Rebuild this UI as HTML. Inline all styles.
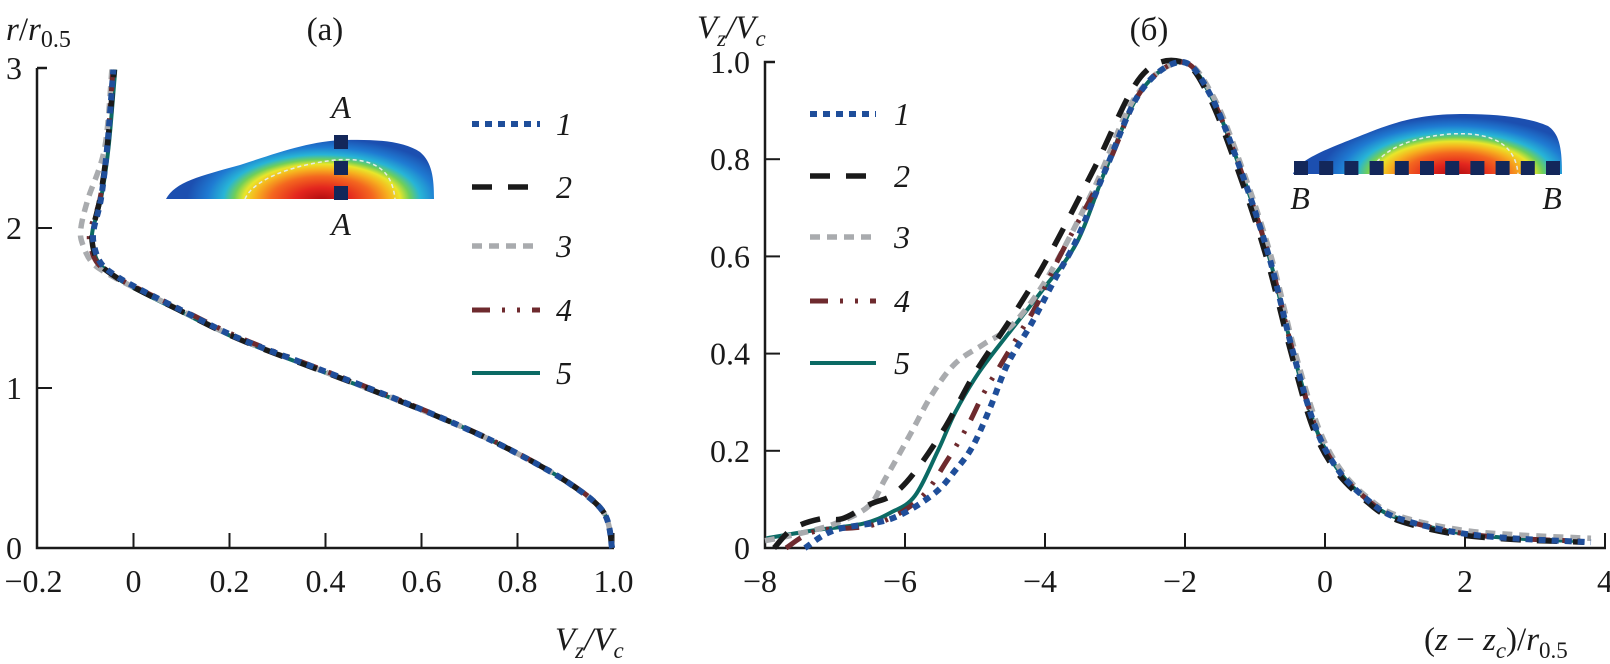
<!DOCTYPE html>
<html><head><meta charset="utf-8">
<style>
html,body{margin:0;padding:0;background:#fff;}
svg{display:block;}
svg text{font-family:"Liberation Serif","Times New Roman",serif;}
</style></head>
<body>
<svg id="chart" width="1610" height="664" viewBox="0 0 1610 664" font-family="Liberation Serif, serif" xmlns="http://www.w3.org/2000/svg">
<defs>
<radialGradient id="gA" gradientUnits="userSpaceOnUse" cx="0" cy="0" r="1" gradientTransform="translate(322,200) scale(135,62)">
<stop offset="0" stop-color="#b00d10"/><stop offset="0.2" stop-color="#e3261e"/><stop offset="0.38" stop-color="#f4671f"/><stop offset="0.5" stop-color="#f6b41f"/><stop offset="0.58" stop-color="#e8e62a"/><stop offset="0.65" stop-color="#6fcf5a"/><stop offset="0.73" stop-color="#27b5d6"/><stop offset="0.85" stop-color="#1f7bd2"/><stop offset="1" stop-color="#1c4fb0"/>
</radialGradient>
<radialGradient id="gB" gradientUnits="userSpaceOnUse" cx="0" cy="0" r="1" gradientTransform="translate(1455,175) scale(135,58)">
<stop offset="0" stop-color="#b00d10"/><stop offset="0.2" stop-color="#e3261e"/><stop offset="0.38" stop-color="#f4671f"/><stop offset="0.5" stop-color="#f6b41f"/><stop offset="0.58" stop-color="#e8e62a"/><stop offset="0.65" stop-color="#6fcf5a"/><stop offset="0.73" stop-color="#27b5d6"/><stop offset="0.85" stop-color="#1f7bd2"/><stop offset="1" stop-color="#1c4fb0"/>
</radialGradient>
</defs>
<g id="left"></g>
<g id="right"></g>
</svg>
<script>
// ---- Data: left panel (V/Vc vs r/r0.5) ----
const leftR = [0,0.22,0.4,0.59,0.75,0.93,1.12,1.31,1.49,1.63,1.70,1.78,1.89,1.99,2.18,2.5,2.99];
const leftV1 = [0.997,0.98,0.91,0.80,0.69,0.548,0.385,0.22,0.097,0.005,-0.036,-0.068,-0.082,-0.083,-0.068,-0.055,-0.042];
const leftV2 = [0.997,0.98,0.91,0.80,0.69,0.545,0.38,0.216,0.093,0.0,-0.04,-0.072,-0.085,-0.085,-0.07,-0.055,-0.04];
const leftV3 = [0.997,0.98,0.91,0.80,0.69,0.545,0.382,0.218,0.095,0.0,-0.045,-0.085,-0.105,-0.11,-0.095,-0.06,-0.045];
const leftV4 = [0.997,0.98,0.912,0.802,0.692,0.55,0.388,0.225,0.1,0.004,-0.04,-0.075,-0.09,-0.09,-0.07,-0.055,-0.043];
const leftV5 = [0.997,0.98,0.91,0.80,0.69,0.543,0.378,0.214,0.09,-0.003,-0.04,-0.072,-0.085,-0.085,-0.068,-0.052,-0.038];
const leftXTicks = [-0.2,0,0.2,0.4,0.6,0.8,1.0];
const leftXTickLabels = ["\u22120.2","0","0.2","0.4","0.6","0.8","1.0"];
const leftYTicks = [0,1,2,3];
const leftYTickLabels = ["0","1","2","3"];

// ---- Data: right panel ((z-zc)/r0.5 vs V/Vc) ----
const rX1 = [-7.43,-7.0,-6.2,-5.6,-5.28,-5.03,-4.78,-4.53,-4.2,-3.87,-3.53,-3.13,-2.63,-2.04,-1.63,-1.21,-0.8,-0.47,-0.14,0.19,0.6,1.01,1.84,2.68,3.8];
const rY1 = [0.0,0.037,0.06,0.11,0.16,0.21,0.29,0.38,0.46,0.55,0.64,0.78,0.94,1.0,0.93,0.78,0.60,0.41,0.25,0.16,0.1,0.063,0.033,0.02,0.012];
const rX2 = [-7.87,-7.6,-7.2,-6.9,-6.5,-6.17,-5.84,-5.42,-5.0,-4.45,-3.95,-3.3,-2.63,-2.04,-1.66,-1.25,-0.84,-0.5,-0.18,0.15,0.56,0.98,1.8,2.65,3.7];
const rY2 = [0.0,0.04,0.06,0.06,0.09,0.11,0.16,0.25,0.36,0.48,0.60,0.78,0.97,1.0,0.93,0.78,0.60,0.41,0.25,0.16,0.1,0.06,0.03,0.018,0.012];
const rX3 = [-8.0,-7.5,-7.0,-6.52,-6.28,-5.94,-5.61,-5.28,-4.87,-4.46,-3.95,-3.3,-2.7,-2.04,-1.6,-1.18,-0.77,-0.44,-0.1,0.23,0.64,1.05,1.9,2.75,3.8];
const rY3 = [0.015,0.03,0.05,0.086,0.143,0.23,0.317,0.38,0.42,0.46,0.56,0.74,0.93,1.0,0.93,0.78,0.60,0.41,0.25,0.16,0.1,0.066,0.038,0.027,0.02];
const rX4 = [-7.7,-7.27,-6.45,-5.8,-5.4,-5.11,-4.87,-4.62,-4.37,-4.12,-3.79,-3.13,-2.63,-2.04,-1.63,-1.21,-0.8,-0.47,-0.14,0.19,0.6,1.01,1.84,2.68,3.7];
const rY4 = [0.0,0.035,0.048,0.1,0.18,0.25,0.32,0.38,0.44,0.50,0.60,0.78,0.94,1.0,0.93,0.78,0.60,0.41,0.25,0.16,0.1,0.063,0.033,0.02,0.014];
const rX5 = [-7.98,-7.27,-6.6,-6.2,-5.86,-5.53,-5.28,-4.95,-4.53,-4.04,-3.54,-3.13,-2.63,-2.04,-1.63,-1.21,-0.8,-0.47,-0.14,0.19,0.6,1.01,1.84,2.68,3.67];
const rY5 = [0.02,0.037,0.05,0.073,0.107,0.2,0.28,0.36,0.44,0.53,0.63,0.78,0.94,1.0,0.93,0.78,0.60,0.41,0.25,0.16,0.1,0.063,0.033,0.02,0.014];
const rightXTicks = [-8,-6,-4,-2,0,2,4];
const rightXTickLabels = ["\u22128","\u22126","\u22124","\u22122","0","2","4"];
const rightYTicks = [0,0.2,0.4,0.6,0.8,1.0];
const rightYTickLabels = ["0","0.2","0.4","0.6","0.8","1.0"];

const NS = "http://www.w3.org/2000/svg";
const FONT = "Liberation Serif, Times New Roman, serif";
function mk(parent, tag, attrs, text){
  const e = document.createElementNS(NS, tag);
  for (const k in attrs) e.setAttribute(k, attrs[k]);
  if (tag === "text") e.setAttribute("font-family", FONT);
  if (text !== undefined) e.textContent = text;
  parent.appendChild(e);
  return e;
}
const styles = [
  {stroke:"#1f4e9a", w:6, dash:"7,6"},
  {stroke:"#1a1a1a", w:5.5, dash:"20,16"},
  {stroke:"#a9abae", w:5.5, dash:"10,7"},
  {stroke:"#6e2a2e", w:5, dash:"18,12,3,12,3,12"},
  {stroke:"#0b6a64", w:4, dash:"none"}
];
function smoothPath(pts){
  let d = "M" + pts[0][0].toFixed(1) + "," + pts[0][1].toFixed(1);
  for (let i=0;i<pts.length-1;i++){
    const p0 = pts[Math.max(0,i-1)], p1 = pts[i], p2 = pts[i+1], p3 = pts[Math.min(pts.length-1,i+2)];
    const c1x = p1[0]+(p2[0]-p0[0])/6, c1y = p1[1]+(p2[1]-p0[1])/6;
    const c2x = p2[0]-(p3[0]-p1[0])/6, c2y = p2[1]-(p3[1]-p1[1])/6;
    d += " C"+c1x.toFixed(1)+","+c1y.toFixed(1)+" "+c2x.toFixed(1)+","+c2y.toFixed(1)+" "+p2[0].toFixed(1)+","+p2[1].toFixed(1);
  }
  return d;
}

// ===== LEFT PANEL =====
const L = document.getElementById("left");
const lx = v => 133.5 + v*480;
const ly = v => 548 - v*160;
mk(L,"path",{d:"M37,68 H47 M37,68 V548 H614","fill":"none",stroke:"#1a1a1a","stroke-width":2.5,});
leftXTicks.forEach((t,i)=>{
  if (i>0){
    const tk = mk(L,"line",{x1:lx(t),x2:lx(t),y1:548,y2:533,stroke:"#1a1a1a","stroke-width":2});
    
    
  }
  const tl = mk(L,"text",{x:lx(t)+(i===0?-4:0),y:592,"font-size":32,"text-anchor":"middle",fill:"#1a1a1a"},leftXTickLabels[i]);
  
  
});
leftYTicks.forEach((t,i)=>{
  if (i>0 && i<3){
    const tk = mk(L,"line",{x1:37,x2:52,y1:ly(t),y2:ly(t),stroke:"#1a1a1a","stroke-width":2});
    
    
  }
  const tl = mk(L,"text",{x:14,y:ly(t)+11,"font-size":32,"text-anchor":"middle",fill:"#1a1a1a"},leftYTickLabels[i]);
  
  
});
[leftV5,leftV3,leftV4,leftV2,leftV1].forEach((arr,k)=>{
  const idx = [4,2,3,1,0][k];
  const s = styles[idx];
  const pts = arr.map((v,i)=>[lx(v),ly(leftR[i])]);
  const p = mk(L,"path",{d:smoothPath(pts),fill:"none",stroke:s.stroke,"stroke-width":s.w,"stroke-dasharray":s.dash});
  
  
});
// inset A
const insA = mk(L,"g",{});


mk(insA,"path",{d:"M166,199 C175,182 200,176 240,165 C280,152 310,141 345,140 C380,139 405,142 420,152 C432,162 434,178 434,199 Z",fill:"url(#gA)"});
mk(insA,"path",{d:"M245,199 C252,182 285,166 335,160 C375,157 392,170 395,199",fill:"none",stroke:"#e6ece6","stroke-width":1.5,"stroke-dasharray":"4,3"});
[142,168,193].forEach(y=>mk(insA,"rect",{x:334,y:y-7,width:14,height:14,fill:"#13275a"}));
mk(L,"text",{x:341,y:118,"font-size":32,"font-style":"italic","text-anchor":"middle",fill:"#1a1a1a",},"A");
mk(L,"text",{x:341,y:235,"font-size":32,"font-style":"italic","text-anchor":"middle",fill:"#1a1a1a",},"A");
// legend left
const legLY = [124,187,246,310,373];
legLY.forEach((y,i)=>{
  const s = styles[i];
  const g = mk(L,"g",{});
  
  
  mk(g,"line",{x1:472,x2:540,y1:y,y2:y,stroke:s.stroke,"stroke-width":s.w,"stroke-dasharray":s.dash});
  mk(g,"text",{x:556,y:y+11,"font-size":32,"font-style":"italic",fill:"#1a1a1a"},String(i+1));
});
const lyt = mk(L,"text",{x:6,y:40,"font-size":33,fill:"#1a1a1a"});


lyt.innerHTML = '<tspan font-style="italic">r</tspan>/<tspan font-style="italic">r</tspan><tspan font-size="24" dy="7">0.5</tspan>';
mk(L,"text",{x:325,y:40,"font-size":33,"text-anchor":"middle",fill:"#1a1a1a",},"(a)");
const lxt = mk(L,"text",{x:555,y:650,"font-size":33,"font-style":"italic",fill:"#1a1a1a"});


lxt.innerHTML = 'V<tspan font-size="23" dy="8">z</tspan><tspan dy="-8">/V</tspan><tspan font-size="23" dy="8">c</tspan>';

// ===== RIGHT PANEL =====
const R = document.getElementById("right");
const rx = v => 765 + (v+8)*70;
const ry = v => 548 - v*486;
mk(R,"path",{d:"M775,62 H765 V548 H1606",fill:"none",stroke:"#1a1a1a","stroke-width":2.5,});
rightXTicks.forEach((t,i)=>{
  if (i>0){
    const tk = mk(R,"line",{x1:rx(t),x2:rx(t),y1:548,y2:533,stroke:"#1a1a1a","stroke-width":2});
    
    
  }
  const tl = mk(R,"text",{x:rx(t)+(t<0?-5:0),y:592,"font-size":32,"text-anchor":"middle",fill:"#1a1a1a"},rightXTickLabels[i]);
  
  
});
rightYTicks.forEach((t,i)=>{
  if (i>0 && i<5){
    const tk = mk(R,"line",{x1:765,x2:780,y1:ry(t),y2:ry(t),stroke:"#1a1a1a","stroke-width":2});
    
    
  }
  const tl = mk(R,"text",{x:750,y:ry(t)+11,"font-size":32,"text-anchor":"end",fill:"#1a1a1a"},rightYTickLabels[i]);
  
  
});
const rSeries = [[rX1,rY1],[rX2,rY2],[rX3,rY3],[rX4,rY4],[rX5,rY5]];
[4,2,3,1,0].forEach(idx=>{
  const s = styles[idx];
  const xs = rSeries[idx][0], ys = rSeries[idx][1];
  const pts = xs.map((v,i)=>[rx(v),ry(ys[i])]);
  const p = mk(R,"path",{d:smoothPath(pts),fill:"none",stroke:s.stroke,"stroke-width":s.w,"stroke-dasharray":s.dash});
  
  
});
// inset B
const insB = mk(R,"g",{});


mk(insB,"path",{d:"M1293,174 C1300,158 1330,148 1370,132 C1405,118 1430,114 1465,114 C1500,114 1530,118 1548,126 C1560,134 1562,150 1562,174 Z",fill:"url(#gB)"});
mk(insB,"path",{d:"M1370,174 C1378,152 1405,138 1450,134 C1500,131 1516,150 1518,174",fill:"none",stroke:"#e6ece6","stroke-width":1.5,"stroke-dasharray":"4,3"});
for (let i=0;i<11;i++){ mk(insB,"rect",{x:1294+i*25.2,y:161,width:14,height:14,fill:"#13275a"}); }
mk(R,"text",{x:1300,y:209,"font-size":32,"font-style":"italic","text-anchor":"middle",fill:"#1a1a1a",},"B");
mk(R,"text",{x:1552,y:209,"font-size":32,"font-style":"italic","text-anchor":"middle",fill:"#1a1a1a",},"B");
const legRY = [114,176,237,301,363];
legRY.forEach((y,i)=>{
  const s = styles[i];
  const g = mk(R,"g",{});
  
  
  mk(g,"line",{x1:810,x2:876,y1:y,y2:y,stroke:s.stroke,"stroke-width":s.w,"stroke-dasharray":s.dash});
  mk(g,"text",{x:894,y:y+11,"font-size":32,"font-style":"italic",fill:"#1a1a1a"},String(i+1));
});
const ryt = mk(R,"text",{x:697,y:38,"font-size":33,"font-style":"italic",fill:"#1a1a1a"});


ryt.innerHTML = 'V<tspan font-size="23" dy="8">z</tspan><tspan dy="-8">/V</tspan><tspan font-size="23" dy="8">c</tspan>';
mk(R,"text",{x:1149,y:40,"font-size":33,"text-anchor":"middle",fill:"#1a1a1a",},"(\u0431)");
const rxt = mk(R,"text",{x:1424,y:650,"font-size":33,fill:"#1a1a1a"});


rxt.innerHTML = '(<tspan font-style="italic">z</tspan> \u2212 <tspan font-style="italic">z</tspan><tspan font-size="23" dy="8" font-style="italic">c</tspan><tspan dy="-8">)/</tspan><tspan font-style="italic">r</tspan><tspan font-size="23" dy="8">0.5</tspan>';
</script>
</body></html>
